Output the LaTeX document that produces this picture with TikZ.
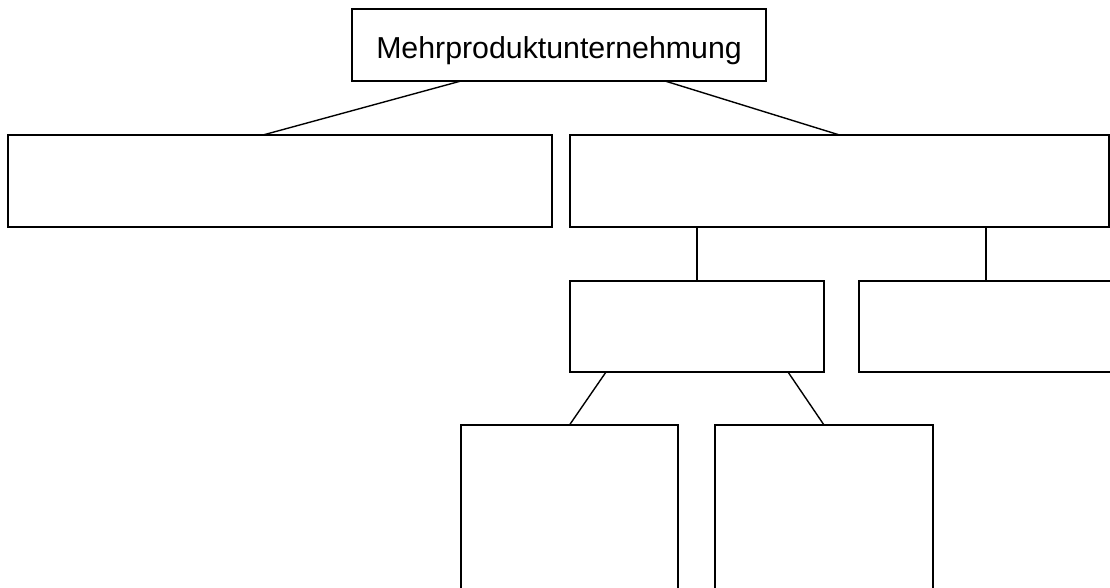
\documentclass[tikz,border=0pt]{standalone}
\usepackage{fontspec}
\setmainfont{Liberation Sans}
\usetikzlibrary{calc}
\begin{document}
\begin{tikzpicture}[x=1pt,y=-1pt,
  box/.style={draw=black, line width=1.4pt, fill=white, inner sep=0pt, outer sep=0pt, rectangle},
  link/.style={draw=black, line width=1.4pt}]
\clip (0,0) rectangle (1110,588);
\fill[white] (0,0) rectangle (1110,588);
\node[box, minimum width=414pt, minimum height=72pt, text height=28pt, text depth=0pt, font=\fontsize{30.3}{34}\selectfont] (top) at (559,45) {Mehrproduktunternehmung};
\node[box, minimum width=544pt, minimum height=92pt] (left) at (280,181) {};
\node[box, minimum width=539pt, minimum height=92pt] (right) at (839.5,181) {};
\node[box, minimum width=254pt, minimum height=91pt] (mid) at (697,326.5) {};
\node[box, minimum width=254pt, minimum height=91pt] (rmid) at (986,326.5) {};
\node[box, minimum width=217pt, minimum height=180pt] (bl) at (569.5,515) {};
\node[box, minimum width=218pt, minimum height=180pt] (br) at (824,515) {};
\draw[link] ([xshift=-98pt]top.south) -- ([xshift=-17pt]left.north);
\draw[link] ([xshift=106pt]top.south) -- (right.north);
\draw[link] (mid.north) -- (mid.north |- right.south);
\draw[link] (rmid.north) -- (rmid.north |- right.south);
\draw[link] ([xshift=-91pt]mid.south) -- (bl.north);
\draw[link] ([xshift=91pt]mid.south) -- (br.north);
\end{tikzpicture}
\end{document}
